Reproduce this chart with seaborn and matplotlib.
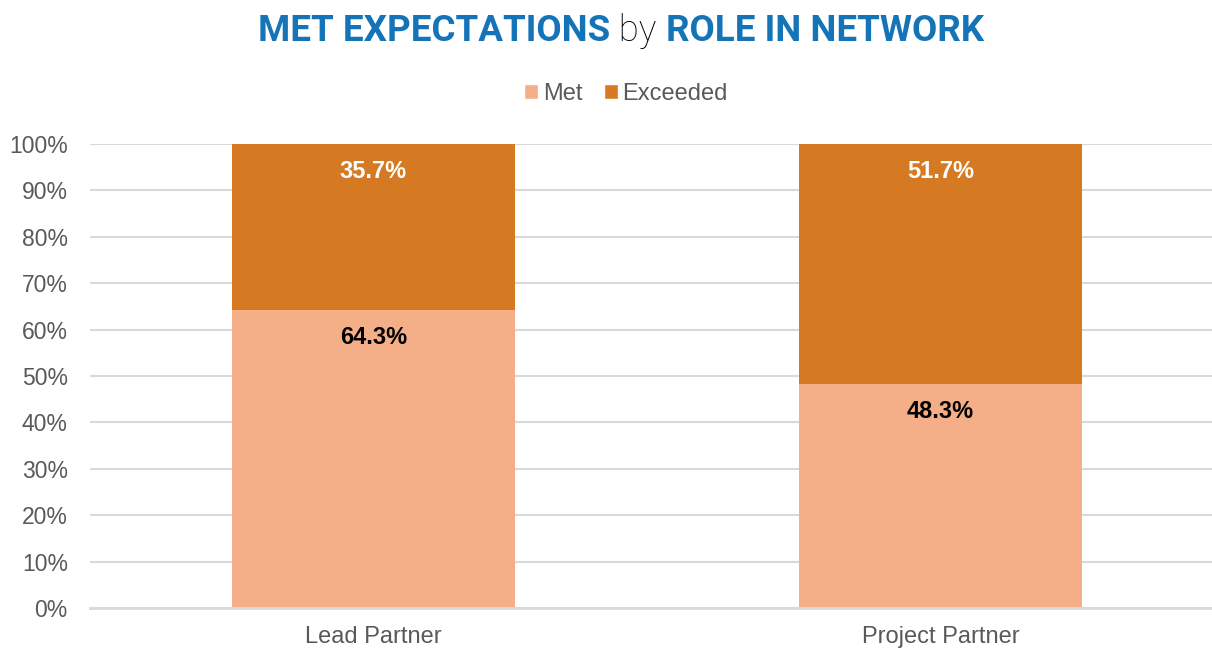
import matplotlib
matplotlib.use("Agg")
import matplotlib.pyplot as plt
from matplotlib.patches import Patch
import pandas as pd
import seaborn as sns

# Data
roles = ["Lead Partner", "Project Partner"]
met = [64.3, 48.3]
exceeded = [35.7, 51.7]
yticks = [0, 10, 20, 30, 40, 50, 60, 70, 80, 90, 100]

MET_COLOR = "#F4AF88"
EXC_COLOR = "#D57A22"
TITLE_BLUE = "#1573B8"
GRAY = "#595959"

sns.set_theme(style="white")
plt.rcParams["font.family"] = ["Liberation Sans", "DejaVu Sans"]

fig = plt.figure(figsize=(12.12, 6.48), dpi=100)
ax = fig.add_axes([90 / 1212, 1 - 608 / 648, 1 - 90 / 1212, (608 - 144) / 648])

df = pd.DataFrame({"role": roles, "met": met, "exceeded": exceeded})
df["total"] = df["met"] + df["exceeded"]

# Stacked bars: the full height first, then the "Met" part over it
sns.barplot(data=df, x="role", y="total", color=EXC_COLOR, width=0.5,
            saturation=1, ax=ax, zorder=3, linewidth=0)
sns.barplot(data=df, x="role", y="met", color=MET_COLOR, width=0.5,
            saturation=1, ax=ax, zorder=3, linewidth=0)

ax.set_xlim(-0.5, 1.479)
ax.set_ylim(0, 100)
ax.set_yticks(yticks)
ax.set_yticklabels([f"{v}%" for v in yticks])
ax.set_xlabel("")
ax.set_ylabel("")
ax.yaxis.grid(True, color="#D9D9D9", linewidth=1.5, zorder=0)
ax.xaxis.grid(False)
for side in ["left", "right", "top"]:
    ax.spines[side].set_visible(False)
ax.spines["bottom"].set_color("#D9D9D9")
ax.spines["bottom"].set_linewidth(2)
ax.spines["bottom"].set_zorder(4)
ax.tick_params(axis="y", labelsize=16.5, labelcolor=GRAY, length=0, pad=16)
ax.tick_params(axis="x", labelsize=17, labelcolor=GRAY, length=0, pad=13)

# Value labels, near the top of each segment
for i, (m, e) in enumerate(zip(met, exceeded)):
    ax.annotate(f"{m:.1f}%", xy=(i, m), xytext=(0, -28), textcoords="offset pixels",
                ha="center", va="center", fontsize=17, fontweight="bold",
                color="black", zorder=5)
    ax.annotate(f"{e:.1f}%", xy=(i, m + e), xytext=(0, -28), textcoords="offset pixels",
                ha="center", va="center", fontsize=17, fontweight="bold",
                color="white", zorder=5)

# Legend
handles = [Patch(facecolor=MET_COLOR, label="Met"),
           Patch(facecolor=EXC_COLOR, label="Exceeded")]
fig.legend(handles=handles, loc="center", bbox_to_anchor=(626 / 1212, 1 - 94 / 648),
           ncol=2, frameon=False, fontsize=17, handlelength=0.6, handleheight=0.6,
           handletextpad=0.2, columnspacing=0.9, labelcolor=GRAY)

# Title in three styled pieces, centred as a whole
parts = [("MET EXPECTATIONS", TITLE_BLUE, "bold"),
         (" by ", "black", "light"),
         ("ROLE IN NETWORK", TITLE_BLUE, "bold")]
renderer = fig.canvas.get_renderer()
title_y = 1 - 31 / 648
texts = []
total_w = 0
for s, c, w in parts:
    t = fig.text(0, title_y, s, color=c, fontweight=w, fontsize=26.5,
                 family=["Roboto", "DejaVu Sans"],
                 ha="left", va="center")
    texts.append(t)
    total_w += t.get_window_extent(renderer).width
x = 621 - total_w / 2
for t in texts:
    t.set_x(x / 1212)
    x += t.get_window_extent(renderer).width

fig.savefig("out.png", dpi=100)
